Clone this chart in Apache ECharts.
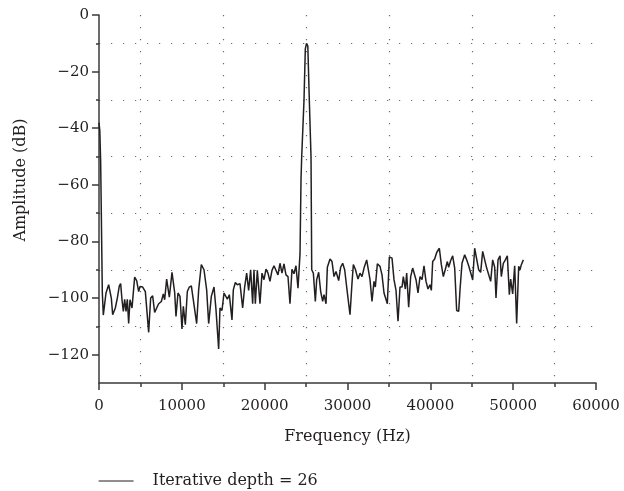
<!DOCTYPE html>
<html><head><meta charset="utf-8">
<script src="https://cdn.jsdelivr.net/npm/echarts@6/dist/echarts.min.js"></script>
<style>html,body{margin:0;padding:0;background:#fff}#c{width:624px;height:491px}</style>
</head><body><div id="c"></div>
<script>
const seriesName = 'Iterative depth = 26';
const xAxisTitle = 'Frequency (Hz)';
const yAxisTitle = 'Amplitude (dB)';
const yMajorTicks = [0, -20, -40, -60, -80, -100, -120];
const yGridLines = [-10, -30, -50, -70, -90, -110];

const frequencyHz = [
  0, 100, 200, 300, 400, 520, 845, 1166, 1488, 1650, 1970, 2213, 2454, 2615, 2776, 2937,
  3098, 3259, 3420, 3581, 3742, 3984, 4144, 4305, 4547, 4789, 4950, 5272, 5594, 5996,
  6237, 6479, 6720, 6962, 7203, 7525, 7766, 7927, 8168, 8490, 8812, 9134, 9295, 9537,
  9778, 10019, 10180, 10422, 10663, 10904, 11146, 11387, 11790, 12031, 12353, 12675,
  12997, 13239, 13561, 13883, 14124, 14446, 14607, 14848, 15090, 15251, 15492, 15733,
  16055, 16216, 16458, 16699, 17021, 17343, 17584, 17826, 18067, 18308, 18550, 18711,
  18872, 19113, 19435, 19677, 19918, 20159, 20401, 20642, 20884, 21125, 21366, 21608,
  21849, 22091, 22332, 22573, 22815, 23056, 23298, 23539, 23780, 24022, 24267,
  24388, 24472, 24750, 24907, 25052, 25209, 25390, 25595, 25680,
  25877, 26118, 26279, 26520, 26762, 27003, 27164, 27406, 27567, 27889, 28130, 28371,
  28613, 28935, 29176, 29418, 29659, 29901, 30303, 30544, 30705, 30947, 31269, 31510,
  31752, 31993, 32315, 32556, 32717, 32959, 33200, 33361, 33603, 33925, 34166, 34408,
  34649, 34810, 35052, 35374, 35615, 35856, 36098, 36339, 36581, 36741, 36983, 37144,
  37385, 37627, 37868, 38029, 38271, 38512, 38754, 38995, 39236, 39478, 39719, 39961,
  40122, 40283, 40524, 40766, 41088, 41329, 41570, 41812, 42053, 42214, 42456, 42697,
  42939, 43180, 43422, 43582, 43824, 44146, 44388, 44629, 44870, 45112, 45353, 45594,
  45836, 46077, 46319, 46560, 46802, 47043, 47285, 47526, 47768, 47928, 48170, 48411,
  48572, 48813, 49055, 49296, 49538, 49699, 49940, 50182, 50423, 50665, 50826, 50987, 51228
];
const amplitudeDb = [
  -38, -41, -52, -75, -98, -106, -98.2, -95.3, -100, -105.9, -103.5, -100, -95.7, -94.9, -100.6, -104.7,
  -100.4, -104.7, -100.4, -109, -100.6, -103.5, -104.1, -92.6, -93.8, -97.7, -95.9, -96.1, -97.7, -112.1,
  -100, -99.2, -105.1, -103.5, -102, -101.2, -98.5, -100.6, -93.3, -99.7, -90.9, -98, -106.5, -98.2,
  -99.4, -110.9, -102.9, -109.4, -97.7, -96.1, -95.7, -100.6, -109, -97.1, -88.2, -90,
  -97.1, -109, -99.4, -96.1, -104.1, -118, -103.5, -104.4, -98.2, -97.7, -100.4, -98.8,
  -107.7, -97.1, -94.5, -95.3, -94.9, -103.5, -96.1, -91.2, -97.3, -90, -102, -90,
  -102, -90.2, -102, -91.2, -93.5, -89.8, -91.2, -94.1, -90.2, -88.6, -89.1, -91.8,
  -87.7, -91.2, -87.9, -91.8, -92.4, -102, -89.8, -91.4, -88.6, -96.5, -84.4,
  -58, -50, -30, -12, -10, -11, -30, -50, -90,
  -91.2, -101.2, -93.5, -90.9, -97.7, -101.2, -98.8, -102, -89.1, -86.2, -87.1, -92.4,
  -90.6, -93.8, -89.1, -87.7, -90, -96.1, -105.9, -94.7, -88.2, -89.8, -93.3, -91.2,
  -92.4, -89.4, -86.5, -86.2, -93.5, -101.2, -94.1, -96.1, -87.9, -88.8, -91.8, -98.2,
  -97.7, -102, -85.5, -85.9, -93.5, -97.3, -108.2, -96.1, -96.1, -92.4, -96.8, -91.2,
  -103.2, -92.4, -89.4, -90, -93.5, -98.2, -92.4, -93.5, -88.6, -94.1, -96.8, -95.3,
  -97.3, -87.1, -86.2, -83.9, -82.4, -88.2, -92.4, -89.8, -87.1, -89.1, -86.7, -85.1,
  -89.4, -104.4, -104.7, -97.1, -87.7, -84.7, -86.5, -88.6, -89.1, -93.5, -82.4, -82.9,
  -90, -90.9, -83.5, -83.5, -89.4, -90, -94.1, -86.5, -89.1, -100, -86.5, -85.1,
  -92.4, -87.7, -86.5, -85.1, -98.8, -93.3, -98.5, -88.6, -109, -88.8, -90, -88.2, -86.5
];

const FONT = 'DejaVu Serif';
const TXT = '#231f20';
const AX = '#3a3a3a';
const DOT = { color: '#6a6a6a', width: 1.2, type: [1.2, 10.8] };

const chart = echarts.init(document.getElementById('c'), null, { renderer: 'canvas' });
chart.setOption({
  animation: false,
  backgroundColor: '#ffffff',
  grid: { left: 99, right: 28, top: 15, bottom: 108, containLabel: false },
  legend: {
    data: [seriesName], left: 98, top: 473, padding: 0, itemWidth: 35, itemHeight: 14,
    itemStyle: { opacity: 0 },
    lineStyle: { color: '#231f20', width: 1.2 },
    textStyle: { fontFamily: FONT, fontSize: 16, color: TXT, padding: [0, 0, 0, 14] }
  },
  xAxis: {
    type: 'value', min: 0, max: 60000, interval: 10000,
    name: xAxisTitle, nameLocation: 'middle', nameGap: 46,
    nameTextStyle: { fontFamily: FONT, fontSize: 16, color: TXT },
    axisLine: { onZero: false, lineStyle: { color: AX, width: 1.5 } },
    axisTick: { show: true, inside: false, length: 7, lineStyle: { color: AX, width: 1.5 } },
    minorTick: { show: true, splitNumber: 2, length: 4, lineStyle: { color: AX, width: 1.5 } },
    splitLine: { show: false },
    minorSplitLine: { show: true, lineStyle: DOT },
    axisLabel: { margin: 16, fontFamily: FONT, fontSize: 15, color: TXT, formatter: v => String(v) }
  },
  yAxis: [{
    type: 'value', min: -130, max: 0, position: 'left',
    name: yAxisTitle, nameLocation: 'middle', nameGap: 70,
    nameTextStyle: { fontFamily: FONT, fontSize: 16, color: TXT, padding: [0, 0, 0, 38] },
    axisLine: { show: true, onZero: false, lineStyle: { color: AX, width: 1.5 } },
    axisTick: { show: true, length: 7, customValues: yMajorTicks, lineStyle: { color: AX, width: 1.5 } },
    axisLabel: { customValues: yMajorTicks, margin: 10, fontFamily: FONT, fontSize: 15, color: TXT,
      formatter: v => String(v).replace('-', '\u2212') },
    splitLine: { show: false }
  }, {
    type: 'value', min: -130, max: 0, position: 'left', offset: 0,
    axisLine: { show: false, onZero: false },
    axisTick: { show: true, length: 3, customValues: yGridLines, lineStyle: { color: AX, width: 1.5 } },
    axisLabel: { show: false },
    splitLine: { show: true, lineStyle: DOT }
  }],
  series: [{
    name: seriesName, type: 'line', yAxisIndex: 0,
    data: frequencyHz.map((f, i) => [f, amplitudeDb[i]]),
    symbol: 'none', showSymbol: false,
    lineStyle: { color: '#231f20', width: 1.5 },
    itemStyle: { color: '#231f20' }
  }]
});
</script>
</body></html>
